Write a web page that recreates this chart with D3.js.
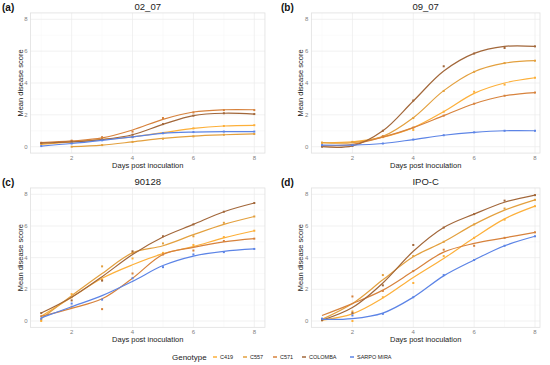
<!DOCTYPE html>
<html>
<head>
<meta charset="utf-8">
<script src="https://cdn.jsdelivr.net/npm/d3@7"></script>
<style>
  body { margin: 0; background: #fff; }
  svg { font-family: "Liberation Sans", Arial, sans-serif; }
</style>
</head>
<body>
<div id="chart"></div>
<script>
// days on the x axis
var days = [1, 2, 3, 4, 5, 6, 7, 8];
var genotypes = ["C419", "C557", "C571", "COLOMBA", "SARPO MIRA"];
var palette = ["#FDB03A", "#E3A03E", "#D7823C", "#A2673A", "#5C84E6"];
var panelTitles = ["02_07", "09_07", "90128", "IPO-C"];
var panelTags = ["(a)", "(b)", "(c)", "(d)"];
var yTicks = [0, 2, 4, 6, 8];
var xTicks = [2, 4, 6, 8];

// smoothed curves, one row per genotype (C419, C557, C571, COLOMBA, SARPO MIRA)
var fit0207 = [
  [0.15, 0.3, 0.45, 0.62, 0.88, 1.15, 1.3, 1.34],
  [null, 0.0, 0.1, 0.3, 0.52, 0.67, 0.75, 0.8],
  [0.25, 0.36, 0.55, 1.05, 1.72, 2.18, 2.32, 2.32],
  [0.22, 0.3, 0.45, 0.75, 1.4, 1.95, 2.1, 2.05],
  [0.04, 0.2, 0.4, 0.62, 0.84, 0.92, 0.95, 0.95]
];
var fit0907 = [
  [0.25, 0.3, 0.6, 1.2, 2.2, 3.35, 4.0, 4.33],
  [0.25, 0.25, 0.65, 1.82, 3.52, 4.71, 5.25, 5.4],
  [0.05, 0.15, 0.6, 1.2, 1.95, 2.7, 3.2, 3.4],
  [0.0, 0.05, 1.0, 2.87, 4.75, 5.86, 6.3, 6.3],
  [0.1, 0.1, 0.2, 0.45, 0.72, 0.9, 1.0, 1.0]
];
var fit90128 = [
  [0.3, 1.5, 2.7, 3.55, 4.25, 4.7, 5.25, 5.7],
  [0.15, 1.6, 3.0, 4.3, 4.75, 5.45, 6.1, 6.6],
  [0.3, 0.8, 1.4, 2.7, 4.2, 4.65, 5.0, 5.2],
  [0.5, 1.5, 2.8, 4.2, 5.3, 6.1, 6.9, 7.45],
  [0.2, 0.9, 1.6, 2.5, 3.5, 4.1, 4.4, 4.55]
];
var fitIPOC = [
  [0.05, 0.45, 1.45, 2.75, 3.95, 5.25, 6.45, 7.25],
  [0.1, 1.1, 2.6, 4.05, 5.0, 6.1, 7.0, 7.65],
  [0.35, 1.1, 1.95, 3.15, 4.35, 4.9, 5.25, 5.6],
  [0.05, 0.85, 2.4, 4.4, 5.9, 6.75, 7.5, 7.95],
  [0.1, 0.15, 0.5, 1.5, 2.85, 3.85, 4.75, 5.35]
];

// observed daily means
var obs0207 = [
  [0.15, 0.3, 0.5, 0.6, 0.85, 1.15, 1.3, 1.35],
  [null, 0.0, 0.1, 0.3, 0.5, 0.65, 0.75, 0.8],
  [0.25, 0.38, 0.6, 0.95, 1.8, 2.15, 2.3, 2.3],
  [0.22, 0.32, 0.45, 0.75, 1.42, 1.95, 2.1, 2.05],
  [0.04, 0.2, 0.4, 0.6, 0.85, 0.92, 0.95, 0.95]
];
var obs0907 = [
  [0.25, 0.3, 0.6, 1.05, 2.2, 3.45, 3.9, 4.33],
  [0.25, 0.3, 0.65, 1.8, 3.5, 4.7, 5.25, 5.4],
  [0.05, 0.1, 0.65, 1.2, 1.95, 2.7, 3.2, 3.4],
  [0.0, 0.05, 1.0, 2.9, 5.05, 5.85, 6.2, 6.3],
  [0.1, 0.1, 0.2, 0.45, 0.72, 0.9, 1.0, 1.0]
];
var obs90128 = [
  [0.0, 1.7, 2.6, 3.95, 4.3, 4.8, 5.3, 5.7],
  [0.1, 1.5, 3.45, 4.3, 4.9, 5.35, 6.2, 6.6],
  [0.3, 0.9, 0.75, 3.0, 4.2, 4.45, 5.05, 5.2],
  [0.5, 1.3, 2.55, 4.4, 5.35, 6.1, 6.9, 7.45],
  [0.15, 1.1, 1.35, 2.7, 3.4, 4.2, 4.35, 4.55]
];
var obsIPOC = [
  [0.05, 0.0, 1.5, 2.4, 4.1, 5.25, 6.4, 7.25],
  [0.1, 0.6, 2.9, 4.1, 5.0, 6.1, 7.1, 7.65],
  [0.1, 1.55, 1.9, 3.15, 4.5, 4.75, 5.25, 5.6],
  [0.05, 0.5, 2.25, 4.8, 5.9, 6.75, 7.6, 7.95],
  [0.15, 0.35, 0.45, 1.5, 2.9, 3.85, 4.75, 5.35]
];

var fits = [fit0207, fit0907, fit90128, fitIPOC];
var obs = [obs0207, obs0907, obs90128, obsIPOC];

var W = 550, H = 365;
var svg = d3.select("#chart").append("svg")
    .attr("width", W)
    .attr("height", H);

// pixel spots of day 1 / day 8 and score 0 / 8 for each panel
var cols = [{d1: 41.2, d8: 254.3}, {d1: 322, d8: 535}];
var rows = [{y0: 146.7, y8: 19.3}, {y0: 321, y8: 194.3}];

function drawPanel(p) {
  var c = cols[p % 2], r = rows[Math.floor(p / 2)];
  var x = d3.scaleLinear().domain([1, 8]).range([c.d1, c.d8]);
  var y = d3.scaleLinear().domain([0, 8]).range([r.y0, r.y8]);
  var left = x(0.65), right = Math.min(x(8.35), 540), top = y(8.4), bottom = y(-0.4);
  var g = svg.append("g");

  // minor grid
  g.selectAll(".vminor").data([1, 3, 5, 7]).enter().append("line")
    .attr("x1", function(d) { return x(d); }).attr("x2", function(d) { return x(d); })
    .attr("y1", top).attr("y2", bottom)
    .style("stroke", "#f4f4f4").style("stroke-width", 0.5);
  g.selectAll(".hminor").data([1, 3, 5, 7]).enter().append("line")
    .attr("x1", left).attr("x2", right)
    .attr("y1", function(d) { return y(d); }).attr("y2", function(d) { return y(d); })
    .style("stroke", "#f4f4f4").style("stroke-width", 0.5);
  // major grid
  g.selectAll(".vmajor").data(xTicks).enter().append("line")
    .attr("x1", function(d) { return x(d); }).attr("x2", function(d) { return x(d); })
    .attr("y1", top).attr("y2", bottom)
    .style("stroke", "#ebebeb").style("stroke-width", 0.7);
  g.selectAll(".hmajor").data(yTicks).enter().append("line")
    .attr("x1", left).attr("x2", right)
    .attr("y1", function(d) { return y(d); }).attr("y2", function(d) { return y(d); })
    .style("stroke", "#ebebeb").style("stroke-width", 0.7);

  g.append("rect")
    .attr("x", left).attr("y", top)
    .attr("width", right - left).attr("height", bottom - top)
    .style("fill", "none").style("stroke", "#e0e0e0").style("stroke-width", 0.8);

  // tick labels
  g.selectAll(".ytl").data(yTicks).enter().append("text")
    .attr("x", left - 3).attr("y", function(d) { return y(d) + 2; })
    .attr("text-anchor", "end")
    .style("font-size", "6px").style("fill", "#7f7f7f")
    .text(function(d) { return d; });
  g.selectAll(".xtl").data(xTicks).enter().append("text")
    .attr("x", function(d) { return x(d); }).attr("y", bottom + 6.5)
    .attr("text-anchor", "middle")
    .style("font-size", "6px").style("fill", "#7f7f7f")
    .text(function(d) { return d; });

  // axis titles
  g.append("text")
    .attr("x", (left + right) / 2).attr("y", bottom + 14.5)
    .attr("text-anchor", "middle")
    .style("font-size", "7.5px").style("fill", "#222")
    .text("Days post inoculation");
  g.append("text")
    .attr("transform", "translate(" + (left - 8) + "," + ((top + bottom) / 2) + ") rotate(-90)")
    .attr("text-anchor", "middle")
    .style("font-size", "7.5px").style("fill", "#222")
    .text("Mean disease score");

  // panel title and tag
  g.append("text")
    .attr("x", (left + right) / 2).attr("y", top - 3)
    .attr("text-anchor", "middle")
    .style("font-size", "9.5px").style("fill", "#222")
    .text(panelTitles[p]);
  g.append("text")
    .attr("x", p % 2 ? 281 : 2).attr("y", top - 2)
    .style("font-size", "10px").style("font-weight", "bold").style("fill", "#111")
    .text(panelTags[p]);

  var line = d3.line()
    .defined(function(d) { return d.v != null; })
    .x(function(d) { return x(d.day); })
    .y(function(d) { return y(d.v); })
    .curve(d3.curveCatmullRom.alpha(0.5));

  genotypes.forEach(function(gt, k) {
    var f = days.map(function(d, i) { return {day: d, v: fits[p][k][i]}; });
    var o = days.map(function(d, i) { return {day: d, v: obs[p][k][i]}; })
      .filter(function(d) { return d.v != null; });
    g.selectAll(".pt" + k).data(o).enter().append("rect")
      .attr("x", function(d) { return x(d.day) - 1; })
      .attr("y", function(d) { return y(d.v) - 1; })
      .attr("width", 2).attr("height", 2)
      .style("fill", palette[k]);
    g.append("path")
      .datum(f)
      .attr("d", line)
      .style("fill", "none")
      .style("stroke", palette[k])
      .style("stroke-width", 1.2);
  });
}

for (var p = 0; p < 4; p++) drawPanel(p);

// legend
var lg = svg.append("g");
lg.append("text")
  .attr("x", 172).attr("y", 360)
  .style("font-size", "8px").style("fill", "#222")
  .text("Genotype");
var legX = [213, 243, 273, 302, 350];
genotypes.forEach(function(gt, k) {
  lg.append("line")
    .attr("x1", legX[k]).attr("x2", legX[k] + 4)
    .attr("y1", 357).attr("y2", 357)
    .style("stroke", palette[k]).style("stroke-width", 1.5);
  lg.append("text")
    .attr("x", legX[k] + 7).attr("y", 359)
    .style("font-size", "5.5px").style("fill", "#222")
    .text(gt);
});
</script>
</body>
</html>
